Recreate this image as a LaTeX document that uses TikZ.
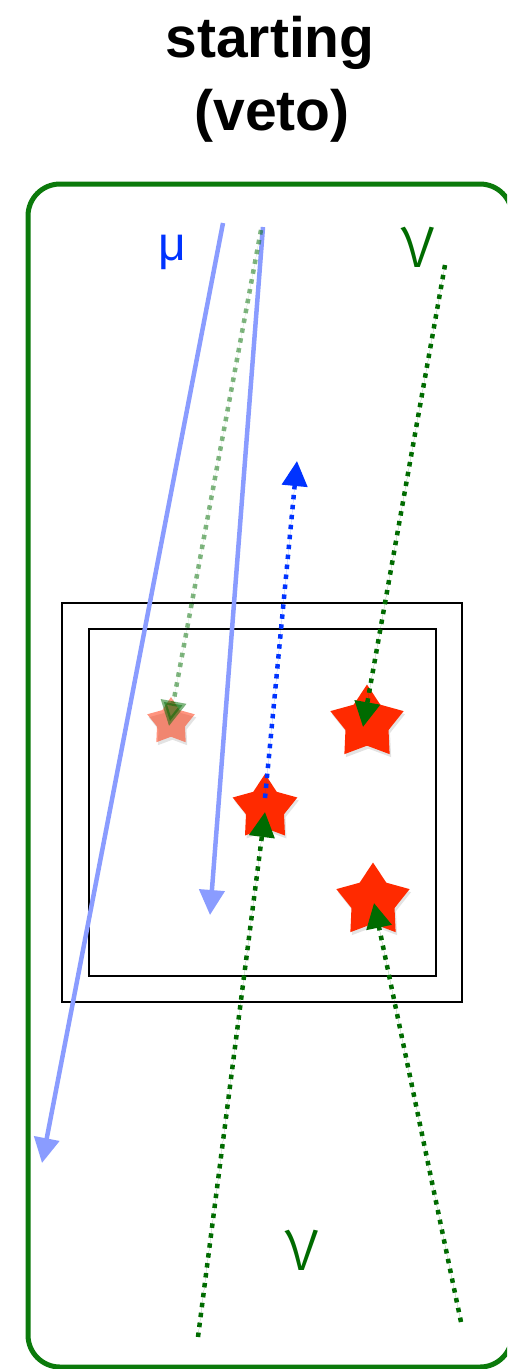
\documentclass[tikz,border=0pt]{standalone}
\usepackage{fontspec}
\setmainfont{Liberation Sans}
\newfontfamily\nufont{Fira Sans Light}
\usetikzlibrary{arrows.meta,shapes.geometric,shadows}
\definecolor{boxgreen}{HTML}{0B7A0B}
\definecolor{nugreen}{HTML}{006B00}
\definecolor{mublue}{HTML}{0033FF}
\definecolor{lightblue}{HTML}{8A9CFF}
\definecolor{starred}{HTML}{FF2A00}
\begin{document}
\begin{tikzpicture}[x=1pt,y=-1pt,
  titletext/.style={font=\fontsize{57}{68}\selectfont\bfseries, anchor=base, inner sep=0pt},
  lbl/.style={anchor=base, inner sep=0pt},
  star5/.style={star, star points=5, star point ratio=1.7, inner sep=0pt, draw=none, fill=starred,
    drop shadow={shadow xshift=1.5pt, shadow yshift=-3pt, opacity=0.22}},
  tip/.style={-{Triangle[length=25pt,width=25pt]}},
  muarrow/.style={tip, draw=lightblue, line width=4.5pt},
  nudot/.style={tip, draw=nugreen, fill=nugreen, line width=4.5pt, dash pattern=on 4.5pt off 5.5pt},
  bluedot/.style={tip, draw=mublue, line width=4.5pt, dash pattern=on 4.5pt off 5.5pt},
  detbox/.style={draw=black, line width=2pt}
]
\useasboundingbox (0,0) rectangle (507,1369);
\clip (0,0) rectangle (507,1369);

% title
\node[titletext] (t1) at (270,57) {starting};
\node[titletext] (t2) at (272,130) {(veto)};

% outer veto region
\draw[boxgreen, line width=5pt, rounded corners=32pt] (28,184) rectangle (512,1367);

% detector boxes
\draw[detbox] (62,603) rectangle (462,1002);
\draw[detbox] (89,629) rectangle (436,976);

% labels
\node[lbl, text=mublue, font=\fontsize{48}{58}\selectfont] (mu) at (172,260) {μ};
\node[lbl, text=nugreen, font=\nufont\fontsize{76}{88}\selectfont] (nu1) at (418,267) {ν};
\node[lbl, text=nugreen, font=\nufont\fontsize{76}{88}\selectfont] (nu2) at (302,1270) {ν};

% stars
\node[star5, minimum size=50pt, fill opacity=0.5] (sf) at (171,722) {};
\node[star5, minimum size=77pt] (s1) at (367,723) {};
\node[star5, minimum size=68pt] (s2) at (265,808) {};
\node[star5, minimum size=77pt] (s3) at (373,901) {};

% coordinates
\coordinate (m1a) at (223,223);
\coordinate (m1b) at (42,1163);
\coordinate (m2a) at (263,227);
\coordinate (m2b) at (210,915);
\coordinate (fa) at (261,230);
\coordinate (fb) at (169,726);
\coordinate (na) at (445,265);
\coordinate (nb) at (363,727);
\coordinate (nc) at (198,1337);
\coordinate (nd) at (265,812);
\coordinate (ne) at (461,1322);
\coordinate (nf) at (374,903);
\coordinate (ba) at (265,798);
\coordinate (bb) at (297,461);

% muons
\draw[muarrow] (m1a) -- (m1b);
\draw[muarrow] (m2a) -- (m2b);

% faded neutrino
\draw[nudot, opacity=0.5] (fa) -- (fb);

% neutrinos
\draw[nudot] (na) -- (nb);
\draw[nudot] (nc) -- (nd);
\draw[nudot] (ne) -- (nf);

% outgoing muon from starting event
\draw[bluedot, fill=mublue] (ba) -- (bb);
\end{tikzpicture}
\end{document}
